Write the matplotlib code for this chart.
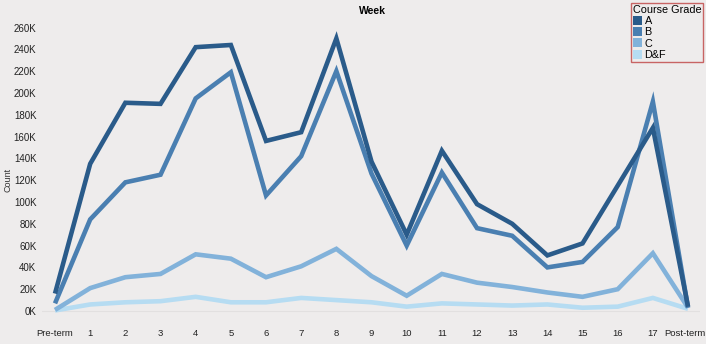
import matplotlib.pyplot as plt
from matplotlib.patches import Patch
from matplotlib.ticker import FuncFormatter
from matplotlib.transforms import ScaledTranslation

plt.rcParams['font.family'] = ['Liberation Sans', 'DejaVu Sans']

weeks = ["Pre-term"] + [str(i) for i in range(1, 18)] + ["Post-term"]
grades = ["A", "B", "C", "D&F"]

# counts in thousands
grade_a = [16, 135, 191, 190, 242, 244, 156, 164, 250, 137, 70, 147, 98, 80, 51, 62, 115, 168, 4]
grade_b = [7, 84, 118, 125, 195, 219, 106, 142, 220, 126, 60, 127, 76, 69, 40, 45, 77, 192, 3]
grade_c = [1, 21, 31, 34, 52, 48, 31, 41, 57, 32, 14, 34, 26, 22, 17, 13, 20, 53, 3]
grade_df = [0.5, 6, 8, 9, 13, 8, 8, 12, 10, 8, 4, 7, 6, 5, 6, 3, 4, 12, 2]

colors = ["#2a5b8a", "#4a7fb1", "#82b2da", "#b6dcf2"]
bg = "#eeecec"

fig = plt.figure(figsize=(7.06, 3.44), dpi=100, facecolor=bg)
ax = fig.add_axes([42/706, 21/344, (700-42)/706, (323-21)/344], facecolor=bg)

x = list(range(len(weeks)))
series = [grade_a, grade_b, grade_c, grade_df]
# draw lightest first so darker lines sit on top
for vals, c in reversed(list(zip(series, colors))):
    ax.plot(x, [v * 1000 for v in vals], color=c, lw=3.3, solid_joinstyle='miter',
            solid_capstyle='butt')

ax.set_xlim(-0.37, 18.34)
ax.set_ylim(-11000, 266000)
ax.set_yticks(range(0, 260001, 20000))
ax.yaxis.set_major_formatter(FuncFormatter(lambda v, p: f"{int(v/1000)}K"))
ax.set_xticks(x)
ax.set_xticklabels(weeks)
ax.tick_params(length=0, labelsize=7, colors="#222222")
ax.tick_params(axis='x', pad=4, labelsize=6.8)
ax.tick_params(axis='y', pad=4)
# keep "Post-term" inside the figure
last = ax.get_xticklabels()[-1]
last.set_transform(last.get_transform() + ScaledTranslation(-3/100, 0, fig.dpi_scale_trans))
ax.axhline(0, color="#e2e0e0", lw=0.8, zorder=0)
for s in ax.spines.values():
    s.set_visible(False)

fig.text(8/706, 1 - 180/344, "Count", rotation=90, fontsize=6.5, color="#333333",
         ha='center', va='center')
fig.text(372/706, 1 - 11/344, "Week", fontsize=7.5, fontweight='bold',
         ha='center', va='center')

handles = [Patch(facecolor=c, edgecolor='none') for c in colors]
leg = fig.legend(handles, grades, title="Course Grade", loc='upper left',
                 bbox_to_anchor=(631/706, 1 - 3/344), fontsize=7.8, title_fontsize=7.8,
                 frameon=True, fancybox=False, handlelength=0.9, handleheight=0.9,
                 handletextpad=0.2, labelspacing=0.1, borderpad=0.15,
                 borderaxespad=0)
leg._legend_box.align = "left"
frame = leg.get_frame()
frame.set_edgecolor("#c86464")
frame.set_facecolor(bg)
frame.set_linewidth(1.0)
frame.set_alpha(1)

fig.savefig("out.png", dpi=100, facecolor=bg)
